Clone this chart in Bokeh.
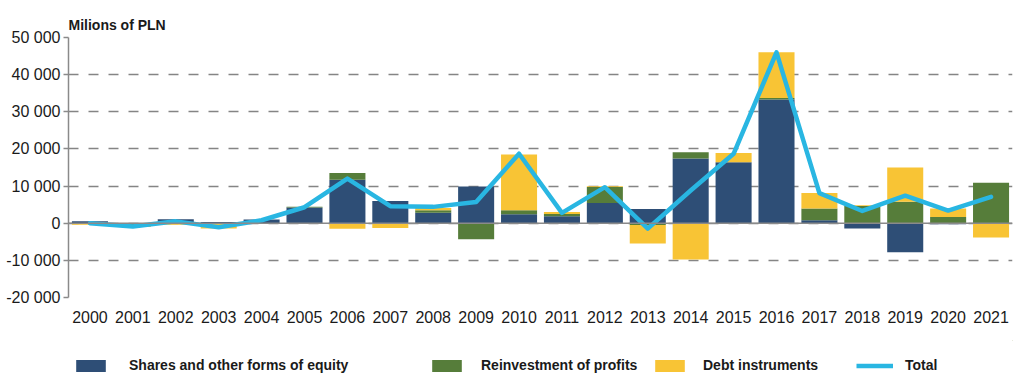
from bokeh.plotting import figure
from bokeh.layouts import column
from bokeh.models import (Range1d, FactorRange, FixedTicker, Span, Legend,
                          LegendItem, ColumnDataSource)
from bokeh.embed import file_html
from bokeh.resources import INLINE

years = [str(y) for y in range(2000, 2022)]
shares = [500, -300, 1100, 300, 1000, 4200, 11700, 6000, 2800, 9900, 2400, 1900,
          5450, 3850, 17400, 16400, 33300, 800, -1450, -7800, -300, 0]
reinvest = [0, -200, 0, -200, 0, 200, 1800, 0, 700, -4300, 1100, 600,
            4300, -500, 1700, 0, 400, 3150, 4650, 5750, 1700, 10900]
debt = [-400, -500, -400, -1200, -200, 0, -1500, -1300, 600, 0, 15000, 500,
        200, -4950, -9750, 2500, 12300, 4200, 200, 9250, 2250, -3850]
total = [0, -900, 500, -1100, 800, 4300, 12000, 4600, 4400, 5700, 18700, 2800,
         9700, -1450, 8800, 18700, 46000, 8100, 3300, 7400, 3400, 7100]

series_names = ["Shares and other forms of equity", "Reinvestment of profits",
                "Debt instruments"]
series_values = [shares, reinvest, debt]
series_colors = ["#2E4E76", "#567D3A", "#F8C435"]
total_name = "Total"
total_color = "#29B6E2"

y_ticks = [-20000, -10000, 0, 10000, 20000, 30000, 40000, 50000]
y_tick_labels = ["-20 000", "-10 000", "0", "10 000", "20 000", "30 000",
                 "40 000", "50 000"]

FONT = "Liberation Sans"
TXT = "#1a1a1a"
GREY = "#8a8a8a"

p = figure(width=1024, height=340, x_range=FactorRange(*years, range_padding=0),
           y_range=Range1d(-20000, 50000), output_backend="svg",
           toolbar_location=None, min_border_left=68, min_border_right=12,
           min_border_top=37, min_border_bottom=43)
p.outline_line_color = None

p.title.text = "Milions of PLN"
p.title.text_font = FONT
p.title.text_font_style = "bold"
p.title.text_font_size = "14px"
p.title.text_color = TXT
p.title.align = "left"
p.title.standoff = 10

# stacking (positive and negative separately)
pos_base = [0] * len(years)
neg_base = [0] * len(years)
for name, vals, col in zip(series_names, series_values, series_colors):
    bottoms, tops = [], []
    for i, v in enumerate(vals):
        if v >= 0:
            b, t = pos_base[i], pos_base[i] + v
            pos_base[i] = t
        else:
            b, t = neg_base[i] + v, neg_base[i]
            neg_base[i] = b
        bottoms.append(b)
        tops.append(t)
    src = ColumnDataSource(dict(x=years, bottom=bottoms, top=tops))
    p.vbar(x="x", bottom="bottom", top="top", width=0.84, source=src,
           fill_color=col, line_color=None)

p.add_layout(Span(location=0, dimension="width", line_color=GREY, line_width=1.5))

p.line(x=years, y=total, line_color=total_color, line_width=4.5,
       line_join="round", line_cap="round")

# axes
p.yaxis.ticker = FixedTicker(ticks=y_ticks)
p.yaxis.major_label_overrides = {t: l for t, l in zip(y_ticks, y_tick_labels)}
p.yaxis.major_label_text_font = FONT
p.yaxis.major_label_text_font_size = "16px"
p.yaxis.major_label_text_color = TXT
p.yaxis.axis_line_color = GREY
p.yaxis.axis_line_width = 1.5
p.yaxis.major_tick_line_color = GREY
p.yaxis.major_tick_line_width = 1.5
p.yaxis.major_tick_out = 5
p.yaxis.major_tick_in = 0
p.yaxis.minor_tick_line_color = None
p.yaxis.major_label_standoff = 3

p.xaxis.axis_line_color = None
p.xaxis.major_tick_line_color = None
p.xaxis.minor_tick_line_color = None
p.xaxis.major_label_text_font = FONT
p.xaxis.major_label_text_font_size = "16px"
p.xaxis.major_label_text_color = TXT
p.xaxis.major_label_standoff = 7

p.xgrid.grid_line_color = None
p.ygrid.grid_line_color = "#858585"
p.ygrid.grid_line_width = 1.5
p.ygrid.grid_line_dash = "10 10"

# legend strip (separate figure so the entries are not clipped)
lf = figure(width=1024, height=43, x_range=Range1d(0, 1), y_range=Range1d(0, 1),
            output_backend="svg", toolbar_location=None, x_axis_type=None,
            y_axis_type=None, min_border=0)
lf.outline_line_color = None
lf.xgrid.grid_line_color = None
lf.ygrid.grid_line_color = None

# legend-only proxy renderers, placed outside the visible range
leg_renderers = []
for col in series_colors:
    leg_renderers.append(lf.vbar(x=[5], bottom=[5], top=[6], width=0.5,
                                 fill_color=col, line_color=None))
leg_renderers.append(lf.line(x=[5, 6], y=[5, 5], line_color=total_color,
                             line_width=4.5))
leg_labels = series_names + [total_name]
leg_x = [4, 360, 583, 788]
leg_standoff = [20, 16, 15, 12]

for rend, label, xoff, so in zip(leg_renderers, leg_labels, leg_x, leg_standoff):
    lg = Legend(items=[LegendItem(label=label, renderers=[rend])],
                location=(xoff, 10), orientation="horizontal",
                glyph_width=37, glyph_height=15, label_height=15,
                label_standoff=so, padding=0, margin=0, spacing=0,
                border_line_color=None, background_fill_alpha=0,
                label_text_font=FONT, label_text_font_style="bold",
                label_text_font_size="14px", label_text_color=TXT)
    lf.add_layout(lg, "center")

layout = column(p, lf, spacing=0)
open("out.html", "w").write(file_html(layout, INLINE))
